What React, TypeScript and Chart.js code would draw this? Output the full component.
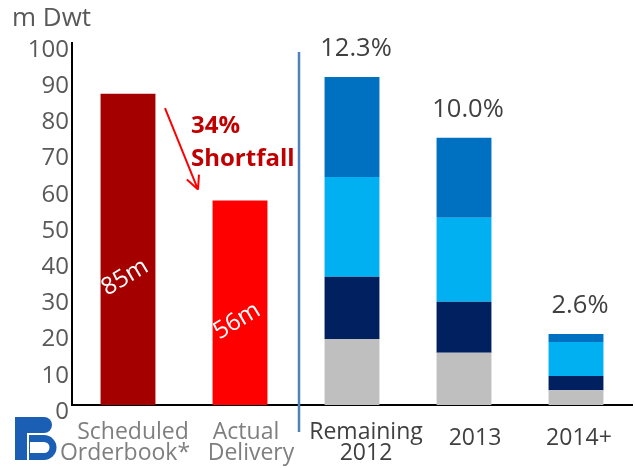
import React, { useEffect, useRef } from "react";
import { Chart, registerables } from "chart.js";

Chart.register(...registerables);

const categories: string[][] = [["Scheduled", "Orderbook*"], ["Actual", "Delivery"], ["Remaining", "2012"], ["2013"], ["2014+"]];
const scheduledValues = [86, null, null, null, null];
const actualValues = [null, 56.5, null, null, null];
const grayValues = [null, null, 18.2, 14.4, 4.1];
const navyValues = [null, null, 17.2, 14.1, 3.9];
const lightBlueValues = [null, null, 27.6, 23.2, 9.4];
const blueValues = [null, null, 27.6, 22.1, 2.2];
const pctLabels = ["", "", "12.3%", "10.0%", "2.6%"];
const barLabels = ["85m", "56m", "", "", ""];
const shortfallLines = ["34%", "Shortfall"];
const yTickValues = [0, 10, 20, 30, 40, 50, 60, 70, 80, 90, 100];
const xLabelColors = ["#7f7f7f", "#7f7f7f", "#404040", "#404040", "#404040"];
const yTitle = "m Dwt";

// style: horizontal shift of each category label from its bar centre (px), per line
const xLabelShift = [[5, -3], [6, 11], [14, 14], [11], [3]];

const FONT = "'Open Sans', 'Noto Sans', sans-serif";

const overlay = {
  id: "overlay",
  afterDraw(chart: any) {
    const ctx = chart.ctx;
    const x = chart.scales.x;
    const y = chart.scales.y;
    ctx.save();
    // y title
    ctx.fillStyle = "#595959";
    ctx.font = `26px ${FONT}`;
    ctx.textAlign = "left";
    ctx.textBaseline = "middle";
    ctx.fillText(yTitle, 12, 19);

    // separator
    const sepX = (x.getPixelForValue(1) + x.getPixelForValue(2)) / 2 + 3;
    ctx.strokeStyle = "#4F81BD";
    ctx.lineWidth = 2.5;
    ctx.beginPath();
    ctx.moveTo(sepX, y.getPixelForValue(97.5));
    ctx.lineTo(sepX, y.getPixelForValue(0) + 27);
    ctx.stroke();

    // x labels
    ctx.font = `23px ${FONT}`;
    ctx.textAlign = "center";
    categories.forEach((lines, i) => {
      const cx = x.getPixelForValue(i);
      ctx.fillStyle = xLabelColors[i];
      const base = y.getPixelForValue(0);
      if (lines.length === 1) {
        ctx.fillText(lines[0], cx + xLabelShift[i][0], base + 33);
      } else {
        ctx.fillText(lines[0], cx + xLabelShift[i][0], base + 27);
        ctx.fillText(lines[1], cx + xLabelShift[i][1], base + 48);
      }
    });

    // percent labels
    ctx.fillStyle = "#404040";
    ctx.font = `25.5px ${FONT}`;
    pctLabels.forEach((t, i) => {
      if (!t) return;
      const total = [grayValues, navyValues, lightBlueValues, blueValues].reduce((s, arr) => s + (arr[i] || 0), 0);
      ctx.fillText(t, x.getPixelForValue(i) + 4, y.getPixelForValue(total) - 28);
    });

    // rotated bar labels
    ctx.fillStyle = "#ffffff";
    ctx.font = `24px ${FONT}`;
    const tops = [scheduledValues[0] as number, actualValues[1] as number];
    barLabels.forEach((t, i) => {
      if (!t) return;
      const cx = x.getPixelForValue(i) - 3;
      const cy = y.getPixelForValue(tops[i] * 0.41);
      ctx.save();
      ctx.translate(cx, cy);
      ctx.rotate((-31 * Math.PI) / 180);
      ctx.fillText(t, 0, 0);
      ctx.restore();
    });

    // arrow
    const x0 = x.getPixelForValue(0);
    const sx = x0 + 37, sy = y.getPixelForValue(82);
    const ex = x0 + 70, ey = y.getPixelForValue(59.5);
    ctx.strokeStyle = "#FF0000";
    ctx.lineWidth = 2;
    ctx.beginPath();
    ctx.moveTo(sx, sy);
    ctx.lineTo(ex, ey);
    const ang = Math.atan2(ey - sy, ex - sx);
    const hl = 15;
    ctx.moveTo(ex, ey);
    ctx.lineTo(ex - hl * Math.cos(ang - 0.45), ey - hl * Math.sin(ang - 0.45));
    ctx.moveTo(ex, ey);
    ctx.lineTo(ex - hl * Math.cos(ang + 0.45), ey - hl * Math.sin(ang + 0.45));
    ctx.stroke();

    // shortfall text
    ctx.fillStyle = "#C00000";
    ctx.font = `bold 24px ${FONT}`;
    ctx.textAlign = "left";
    ctx.fillText(shortfallLines[0], x0 + 63, y.getPixelForValue(77));
    ctx.fillText(shortfallLines[1], x0 + 63, y.getPixelForValue(68));

    // logo
    ctx.fillStyle = "#1B5FB4";
    ctx.fillRect(15, 417, 12, 43);
    ctx.beginPath();
    ctx.moveTo(27, 417);
    ctx.lineTo(44, 417);
    ctx.arc(44, 425, 8, -Math.PI / 2, Math.PI / 2);
    ctx.lineTo(27, 433);
    ctx.closePath();
    ctx.fill();
    ctx.beginPath();
    ctx.moveTo(29, 435);
    ctx.lineTo(44, 435);
    ctx.arc(44, 447.5, 12.5, -Math.PI / 2, Math.PI / 2);
    ctx.lineTo(29, 460);
    ctx.closePath();
    ctx.fill();
    ctx.fillStyle = "#ffffff";
    ctx.beginPath();
    ctx.moveTo(30, 442);
    ctx.lineTo(44, 442);
    ctx.arc(44, 447.5, 5.5, -Math.PI / 2, Math.PI / 2);
    ctx.lineTo(30, 453);
    ctx.closePath();
    ctx.fill();
    ctx.restore();
  },
};

export default function App() {
  const ref = useRef<HTMLCanvasElement>(null);
  useEffect(() => {
    if (!ref.current) return;
    const mk = (label: string, data: any[], color: string) => ({
      label,
      data,
      backgroundColor: color,
      borderWidth: 0,
      barPercentage: 1,
      categoryPercentage: 0.49,
    });
    const chart = new Chart(ref.current, {
      type: "bar",
      data: {
        labels: categories.map((c) => c.join(" ")),
        datasets: [
          mk("Scheduled Orderbook", scheduledValues, "#A50000"),
          mk("Actual Delivery", actualValues, "#FF0000"),
          mk("Other", grayValues, "#BFBFBF"),
          mk("Navy", navyValues, "#002060"),
          mk("Light", lightBlueValues, "#00B0F0"),
          mk("Blue", blueValues, "#0070C0"),
        ],
      },
      options: {
        responsive: false,
        animation: false,
        layout: { padding: { top: 43, right: 3, left: 0, bottom: 0 } },
        plugins: { legend: { display: false }, tooltip: { enabled: false } },
        scales: {
          x: {
            stacked: true,
            grid: { display: false, drawTicks: false },
            border: { display: true, color: "#000000", width: 2 },
            ticks: { display: false },
            afterFit: (s: any) => { s.height = 63; },
          },
          y: {
            stacked: true,
            min: 0,
            max: 100,
            afterBuildTicks: (s: any) => { s.ticks = yTickValues.map((v) => ({ value: v })); },
            grid: { display: false, drawTicks: false },
            border: { display: true, color: "#000000", width: 2 },
            ticks: {
              color: "#595959",
              font: { family: FONT, size: 24 },
              padding: 3,
              labelOffset: 7,
            },
            afterFit: (s: any) => { s.width = 72; },
          },
        },
      },
      plugins: [overlay],
    });
    return () => chart.destroy();
  }, []);
  return (
    <div style={{ position: "fixed", left: 0, top: 0, width: 635, height: 468, background: "#fff" }}>
      <canvas ref={ref} width={635} height={468} style={{ width: 635, height: 468 }} />
    </div>
  );
}
